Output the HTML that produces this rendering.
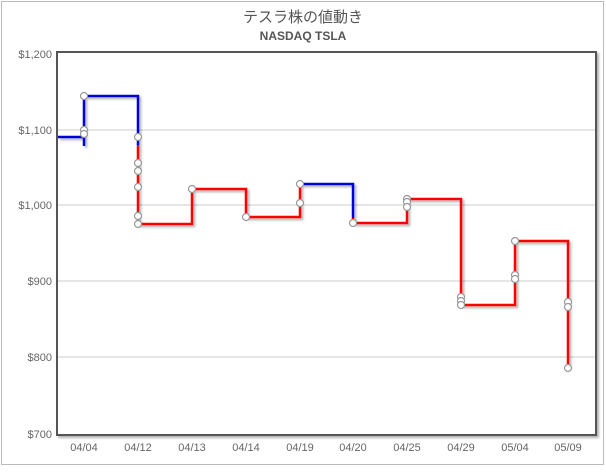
<!DOCTYPE html>
<html><head><meta charset="utf-8"><style>
html,body{margin:0;padding:0;background:#fff}
body{width:606px;height:467px;overflow:hidden}
</style></head><body>
<svg width="606" height="467" xmlns="http://www.w3.org/2000/svg" font-family="'Liberation Sans','Noto Sans CJK JP',sans-serif">
<defs>
<filter id="sh" x="-10%" y="-10%" width="130%" height="130%"><feDropShadow dx="2" dy="2" stdDeviation="1" flood-color="#000" flood-opacity="0.3"/></filter>
</defs>
<rect x="1.5" y="1.5" width="602" height="463" fill="#fff" stroke="#bbb"/>
<text x="303" y="22" text-anchor="middle" font-size="15" fill="#555">テスラ株の値動き</text>
<text x="303" y="40" text-anchor="middle" font-size="12" font-weight="bold" fill="#555">NASDAQ TSLA</text>
<rect x="57" y="52" width="539" height="383" fill="#fff" stroke="#555" stroke-width="2" filter="url(#sh)"/>
<g stroke="#ccc" stroke-width="1">
<line x1="58" x2="595" y1="130" y2="130"/><line x1="58" x2="595" y1="205" y2="205"/>
<line x1="58" x2="595" y1="281" y2="281"/><line x1="58" x2="595" y1="357" y2="357"/>
</g>
<g font-size="11" fill="#666" text-anchor="end">
<text x="52" y="58">$1,200</text><text x="52" y="134">$1,100</text><text x="52" y="209">$1,000</text>
<text x="52" y="285">$900</text><text x="52" y="361">$800</text><text x="52" y="438">$700</text>
</g>
<g font-size="11" fill="#666" text-anchor="middle">
<text x="84" y="451">04/04</text><text x="138" y="451">04/12</text><text x="192" y="451">04/13</text>
<text x="246" y="451">04/14</text><text x="300" y="451">04/19</text><text x="353" y="451">04/20</text>
<text x="407" y="451">04/25</text><text x="461" y="451">04/29</text><text x="515" y="451">05/04</text>
<text x="568" y="451">05/09</text>
</g>
<g fill="none" stroke-width="2.5" filter="url(#sh)">
<path d="M58 137H84V146M84 137V96H138V145" stroke="#0000dd"/>
<path d="M138 145V224H192V189H246V217H300V184" stroke="#ff0000"/>
<path d="M300 184H353V218" stroke="#0000dd"/>
<path d="M353 218V223H407V199H461V305H515V241H568V368" stroke="#ff0000"/>
</g>
<g fill="#fff" stroke="#999" stroke-width="1.2">
<circle cx="84" cy="96" r="3.5"/><circle cx="84" cy="130" r="3.5"/><circle cx="84" cy="134" r="3.5"/>
<circle cx="138" cy="137" r="3.5"/><circle cx="138" cy="163" r="3.5"/><circle cx="138" cy="171" r="3.5"/>
<circle cx="138" cy="187" r="3.5"/><circle cx="138" cy="216" r="3.5"/><circle cx="138" cy="224" r="3.5"/>
<circle cx="192" cy="189" r="3.5"/><circle cx="246" cy="217" r="3.5"/>
<circle cx="300" cy="184" r="3.5"/><circle cx="300" cy="203" r="3.5"/>
<circle cx="353" cy="223" r="3.5"/>
<circle cx="407" cy="199" r="3.5"/><circle cx="407" cy="202" r="3.5"/><circle cx="407" cy="207" r="3.5"/>
<circle cx="461" cy="297" r="3.5"/><circle cx="461" cy="301" r="3.5"/><circle cx="461" cy="305" r="3.5"/>
<circle cx="515" cy="241" r="3.5"/><circle cx="515" cy="275" r="3.5"/><circle cx="515" cy="279" r="3.5"/>
<circle cx="568" cy="302" r="3.5"/><circle cx="568" cy="307" r="3.5"/><circle cx="568" cy="368" r="3.5"/>
</g>
</svg>
</body></html>
